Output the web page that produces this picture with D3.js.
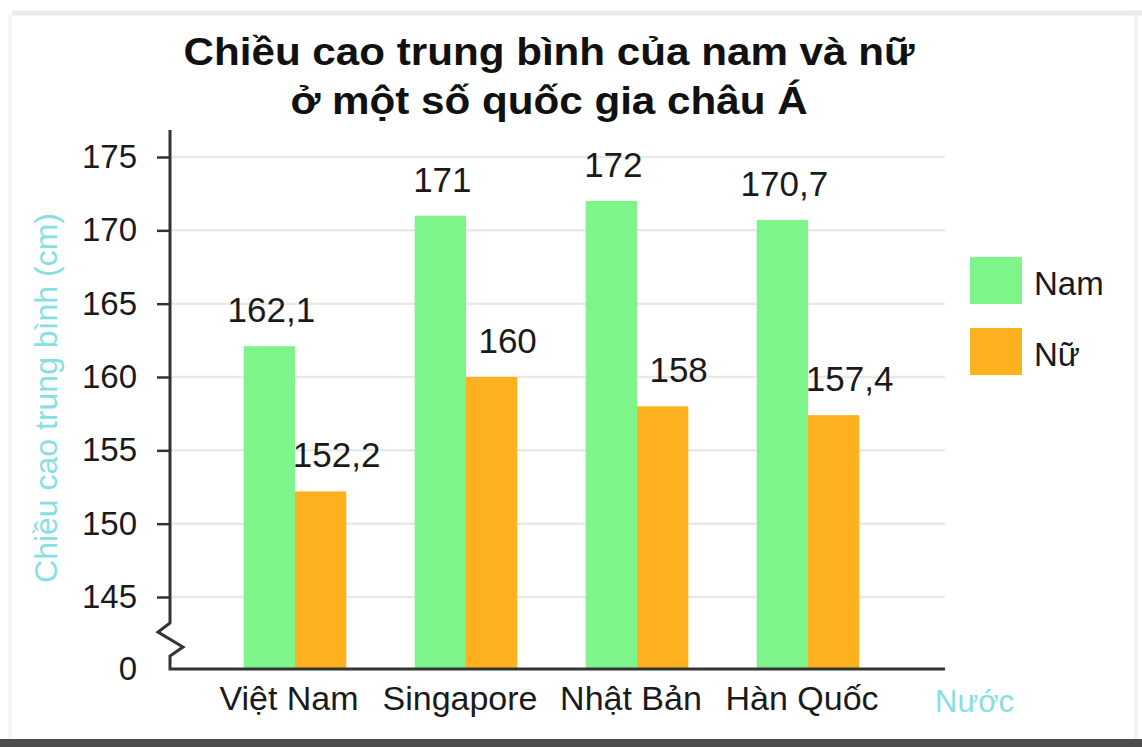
<!DOCTYPE html>
<html>
<head>
<meta charset="utf-8">
<script src="https://cdn.jsdelivr.net/npm/d3@7"></script>
<style>
  body { margin: 0; background: #fff; }
  svg { display: block; font-family: "Liberation Sans", Arial, sans-serif; }
</style>
</head>
<body>
<div class="chart"></div>
<script>
const countries = ["Việt Nam", "Singapore", "Nhật Bản", "Hàn Quốc"];
const series = ["Nam", "Nữ"];
const namValues = [162.1, 171, 172, 170.7];
const nuValues = [152.2, 160, 158, 157.4];
const yTicks = [145, 150, 155, 160, 165, 170, 175];
const colors = ["#7ef58b", "#feb11f"];

const width = 1142, height = 747;
const axisX = 170, axisRight = 945, baseY = 669, axisTop = 130;

const svg = d3.select(".chart").append("svg").attr("width", width).attr("height", height);

// frame of the scanned page
svg.append("rect").attr("x", 0).attr("y", 0).attr("width", width).attr("height", height).attr("fill", "#fff");
svg.append("line").attr("x1", 12).attr("x2", width).attr("y1", 13).attr("y2", 13).attr("stroke", "#ebebeb").attr("stroke-width", 5);
svg.append("line").attr("x1", 10).attr("x2", 10).attr("y1", 13).attr("y2", 740).attr("stroke", "#f3f3f3").attr("stroke-width", 3);
svg.append("line").attr("x1", 1136).attr("x2", 1136).attr("y1", 13).attr("y2", 740).attr("stroke", "#f0f0f0").attr("stroke-width", 3);
svg.append("rect").attr("x", 0).attr("y", 739).attr("width", width).attr("height", 8).attr("fill", "#4d4d4d");

const x = d3.scaleBand().domain(countries).range([209.5, 893.5]).paddingInner(0.4).paddingOuter(0.2);
const xs = d3.scaleBand().domain(series).range([0, x.bandwidth()]);
const y = d3.scaleLinear().domain([145, 175]).range([597, 157]);
const color = d3.scaleOrdinal().domain(series).range(colors);

const rows = countries.map((c, i) => ({ country: c, values: [
  { key: "Nam", value: namValues[i] },
  { key: "Nữ", value: nuValues[i] }
]}));

// gridlines
svg.append("g").selectAll("line").data(yTicks).join("line")
  .attr("x1", axisX).attr("x2", axisRight)
  .attr("y1", d => y(d)).attr("y2", d => y(d))
  .attr("stroke", "#e9e9e9").attr("stroke-width", 2.5);

// bars
const groups = svg.append("g").selectAll("g").data(rows).join("g")
  .attr("transform", d => `translate(${x(d.country)},0)`);

groups.selectAll("rect").data(d => d.values).join("rect")
  .attr("x", d => xs(d.key))
  .attr("width", xs.bandwidth())
  .attr("y", d => y(d.value))
  .attr("height", d => baseY - y(d.value))
  .attr("fill", d => color(d.key));

groups.selectAll("text").data(d => d.values).join("text")
  .attr("x", d => xs(d.key) + xs.bandwidth() / 2 + (d.key === "Nam" ? 2 : 16))
  .attr("y", d => y(d.value) - 24)
  .attr("text-anchor", "middle")
  .attr("font-size", 35)
  .attr("fill", "#1a1a1a")
  .text(d => String(d.value).replace(".", ","));

// y axis
const yAxis = svg.append("g").attr("transform", `translate(${axisX},0)`)
  .call(d3.axisLeft(y).tickValues(yTicks).tickSize(13).tickPadding(20));
yAxis.select(".domain").remove();
yAxis.selectAll(".tick line").attr("stroke", "#333").attr("stroke-width", 2.5);
yAxis.selectAll(".tick text").attr("font-size", 33).attr("fill", "#1a1a1a").attr("font-family", "Liberation Sans, Arial, sans-serif");

// zero label below the break
svg.append("text").attr("x", axisX - 33).attr("y", baseY + 11)
  .attr("text-anchor", "end").attr("font-size", 33).attr("fill", "#1a1a1a").text("0");

// axis line with break
const axisPath = d3.path();
axisPath.moveTo(axisX, axisTop);
axisPath.lineTo(axisX, 623);
axisPath.lineTo(158, 632);
axisPath.lineTo(183, 647);
axisPath.lineTo(axisX, 656);
axisPath.lineTo(axisX, baseY);
axisPath.lineTo(axisRight, baseY);
svg.append("path").attr("d", axisPath.toString())
  .attr("fill", "none").attr("stroke", "#333").attr("stroke-width", 3);

// x labels
svg.append("g").selectAll("text").data(countries).join("text")
  .attr("x", d => x(d) + x.bandwidth() / 2 - 6)
  .attr("y", 710)
  .attr("text-anchor", "middle")
  .attr("font-size", 34)
  .attr("fill", "#1a1a1a")
  .text(d => d);

svg.append("text").attr("x", 935).attr("y", 712)
  .attr("font-size", 31).attr("fill", "#86dfe3").text("Nước");

// y title
svg.append("text")
  .attr("transform", "translate(57,398) rotate(-90)")
  .attr("text-anchor", "middle")
  .attr("font-size", 32).attr("fill", "#86dfe3")
  .text("Chiều cao trung bình (cm)");

// title, a bit stretched like the scan
const title = svg.append("text").attr("text-anchor", "middle").attr("font-weight", "bold")
  .attr("font-size", 38).attr("fill", "#111")
  .attr("transform", "translate(549,0) scale(1.11,1)");
title.append("tspan").attr("x", 0).attr("y", 65).text("Chiều cao trung bình của nam và nữ");
title.append("tspan").attr("x", 0).attr("y", 114).text("ở một số quốc gia châu Á");

// legend
const legend = svg.append("g").selectAll("g").data(series).join("g")
  .attr("transform", (d, i) => `translate(970,${257 + i * 71})`);
legend.append("rect").attr("width", 52).attr("height", 47).attr("fill", d => color(d));
legend.append("text").attr("x", 64).attr("y", 38).attr("font-size", 33).attr("fill", "#1a1a1a").text(d => d);
</script>
</body>
</html>
